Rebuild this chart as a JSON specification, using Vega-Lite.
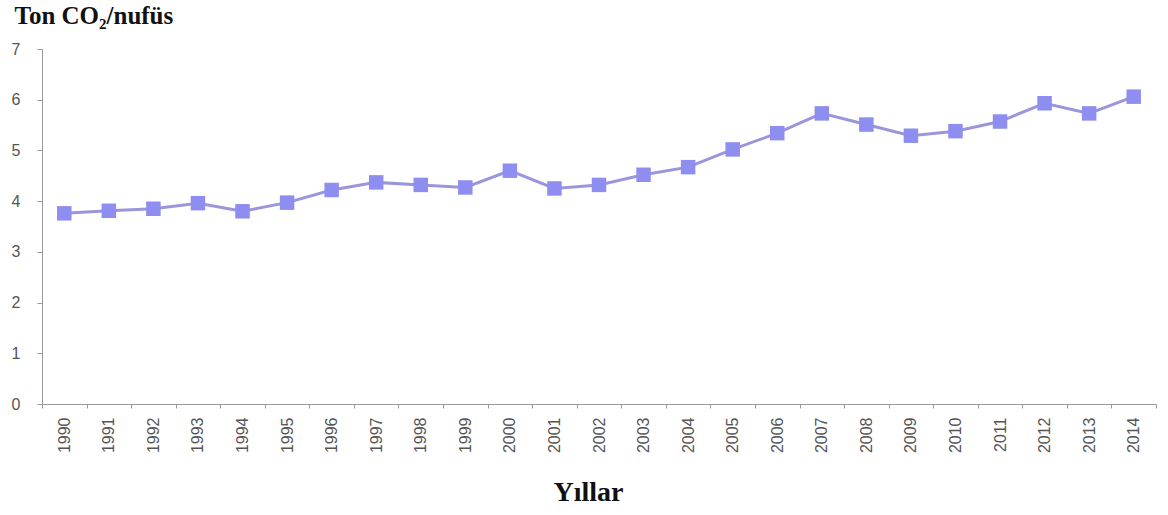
{
  "$schema": "https://vega.github.io/schema/vega-lite/v6.json",
  "width": 1114,
  "height": 355,
  "autosize": "none",
  "padding": {"left": 42, "top": 49, "right": 12, "bottom": 111},
  "background": "white",
  "config": {"view": {"stroke": null}, "axis": {"grid": false}},
  "data": {"values": [
    {"year": "1990", "value": 3.76},
    {"year": "1991", "value": 3.81},
    {"year": "1992", "value": 3.85},
    {"year": "1993", "value": 3.96},
    {"year": "1994", "value": 3.80},
    {"year": "1995", "value": 3.97},
    {"year": "1996", "value": 4.22},
    {"year": "1997", "value": 4.37},
    {"year": "1998", "value": 4.32},
    {"year": "1999", "value": 4.27},
    {"year": "2000", "value": 4.60},
    {"year": "2001", "value": 4.25},
    {"year": "2002", "value": 4.32},
    {"year": "2003", "value": 4.52},
    {"year": "2004", "value": 4.67},
    {"year": "2005", "value": 5.02},
    {"year": "2006", "value": 5.34},
    {"year": "2007", "value": 5.73},
    {"year": "2008", "value": 5.51},
    {"year": "2009", "value": 5.29},
    {"year": "2010", "value": 5.38},
    {"year": "2011", "value": 5.57},
    {"year": "2012", "value": 5.93},
    {"year": "2013", "value": 5.73},
    {"year": "2014", "value": 6.06}
  ]},
  "encoding": {
    "x": {
      "field": "year",
      "type": "ordinal",
      "scale": {"type": "band", "paddingInner": 0, "paddingOuter": 0},
      "axis": {
        "title": "Yıllar",
        "titleFont": "Liberation Serif",
        "titleFontWeight": "bold",
        "titleFontSize": 28,
        "titleColor": "#111111",
        "titleBaseline": "alphabetic",
        "titleAlign": "center",
        "titleX": 546,
        "titleY": 96,
        "labelAngle": -90,
        "labelFont": "Liberation Sans",
        "labelFontSize": 16,
        "labelColor": "#555555",
        "labelPadding": 9,
        "tickBand": "extent",
        "tickSize": 4,
        "tickColor": "#999999",
        "domainColor": "#999999"
      }
    },
    "y": {
      "field": "value",
      "type": "quantitative",
      "scale": {"domain": [0, 7]},
      "axis": {
        "values": [0, 1, 2, 3, 4, 5, 6, 7],
        "title": "Ton CO₂/nufüs",
        "titleFont": "Liberation Serif",
        "titleFontWeight": "bold",
        "titleFontSize": 25,
        "titleColor": "#111111",
        "titleAngle": 0,
        "titleAlign": "left",
        "titleBaseline": "alphabetic",
        "titleX": -28,
        "titleY": -26,
        "labelFont": "Liberation Sans",
        "labelFontSize": 16,
        "labelColor": "#555555",
        "labelPadding": 17,
        "tickSize": 5,
        "tickColor": "#999999",
        "domainColor": "#999999"
      }
    }
  },
  "layer": [
    {"mark": {"type": "line", "color": "#9b96dc", "strokeWidth": 3}},
    {"mark": {"type": "square", "color": "#8e8ef0", "size": 210, "opacity": 1, "filled": true}}
  ]
}
